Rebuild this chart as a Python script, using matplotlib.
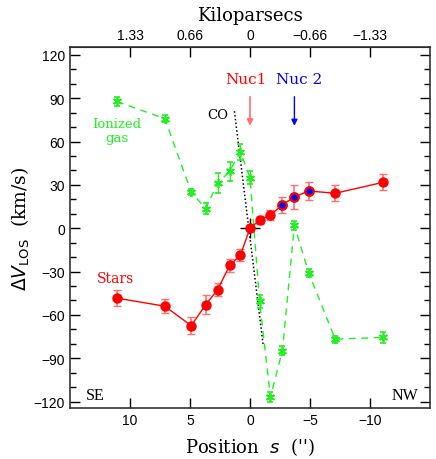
import matplotlib
matplotlib.use("Agg")
import matplotlib.pyplot as plt
import numpy as np

# slit positions (arcsec), shared by stars and gas
pos = np.array([11.1, 7.1, 4.9, 3.7, 2.7, 1.7, 0.8, 0.0, -0.8, -1.7, -2.7, -3.7, -4.9, -7.1, -11.1])

star_v = np.array([-48.4, -54.0, -67.5, -53.0, -42.6, -25.8, -18.7, 0.0, 5.5, 9.2, 16.1, 21.7, 25.8, 24.2, 31.8])
star_err = np.array([5.3, 5.0, 5.8, 6.5, 4.5, 4.3, 4.3, 0.0, 2.9, 3.3, 5.5, 8.4, 6.3, 5.5, 5.6])
star_nuc2 = [10, 11, 12]  # points drawn with blue centres

gas_v = np.array([87.8, 75.9, 25.1, 13.6, 31.1, 39.4, 53.0, 35.0, -50.7, -117.0, -84.8, 2.0, -31.1, -76.8, -75.6])
gas_err = np.array([3.2, 2.3, 2.0, 3.7, 7.0, 6.8, 5.5, 4.6, 4.6, 3.5, 3.1, 2.9, 2.9, 2.5, 3.8])

co_s = [1.3, -1.1]
co_v = [81.0, -81.0]

kpc_ticks = [10, 5, 0, -5, -10]
kpc_labels = ["1.33", "0.66", "0", "\u22120.66", "\u22121.33"]

red = "#ff0000"
light_red = "#ff6f6f"
green = "#22ee22"
blue = "#0000ff"

serif = ["DejaVu Serif"]
plt.rcParams["font.family"] = ["Liberation Sans", "DejaVu Sans"]

fig = plt.figure(figsize=(4.36, 4.6), dpi=100)
ax = fig.add_axes([70 / 436, 1 - 409 / 460, 360 / 436, 361 / 460])

# ionized gas
ax.errorbar(pos, gas_v, yerr=gas_err, color=green, ls=(0, (5, 4)), lw=1.0,
            marker=(6, 2, 0), ms=6.5, mew=1.2, capsize=2.5, elinewidth=1.0, zorder=3)

# CO
ax.plot(co_s, co_v, color="black", ls=(0, (1, 1.5)), lw=1.1, zorder=2)
ax.plot([0], [0], marker="+", ms=14, mew=1.0, color="black", zorder=2)

# stars
ax.errorbar(pos, star_v, yerr=star_err, color=red, lw=1.0, marker="o", ms=6.5,
            ecolor=light_red, capsize=3, elinewidth=1.2, zorder=4)
ax.plot(pos[star_nuc2], star_v[star_nuc2], ls="none", marker="o", ms=6.0,
        mfc=blue, mec=red, mew=1.5, zorder=5)

# nuclei
ax.annotate("", xy=(0, 69), xytext=(0, 93),
            arrowprops=dict(arrowstyle="-|>", color=light_red, lw=1.2, mutation_scale=9))
ax.annotate("", xy=(-3.7, 69), xytext=(-3.7, 93),
            arrowprops=dict(arrowstyle="-|>", color=blue, lw=1.0, mutation_scale=9))
ax.text(0.35, 103, "Nuc1", color=red, ha="center", va="center", fontsize=11, family=serif)
ax.text(-4.1, 103, "Nuc 2", color=blue, ha="center", va="center", fontsize=11, family=serif)

ax.text(1.85, 78.5, "CO", color="black", ha="right", va="center", fontsize=9.5, family=serif)
ax.text(11.1, 67.5, "Ionized\ngas", color=green, ha="center", va="center", fontsize=9.5,
        family=serif, linespacing=1.1)
ax.text(11.25, -34.6, "Stars", color=red, ha="center", va="center", fontsize=10, family=serif)
ax.text(12.9, -115.5, "SE", ha="center", va="center", fontsize=11.5, family=["Liberation Serif"])
ax.text(-12.9, -115.5, "NW", ha="center", va="center", fontsize=11.5, family=["Liberation Serif"])

ax.set_xlim(15, -15)
ax.set_ylim(-124.5, 125.5)
ax.set_xticks([10, 5, 0, -5, -10])
ax.set_yticks(np.arange(-120, 121, 30))
ax.set_yticks(np.arange(-120, 121, 10), minor=True)
ax.tick_params(axis="both", which="major", direction="in", length=7, width=1.0,
               labelsize=10, right=True)
ax.tick_params(axis="y", which="minor", direction="in", length=4, width=1.0, right=True)
for sp in ax.spines.values():
    sp.set_linewidth(1.2)
    sp.set_color("#333333")

ax.set_xlabel("Position  $s$  ('')", fontsize=13, family=serif, labelpad=6)
ax.set_ylabel(r"$\Delta V_{\rm LOS}$  (km/s)", fontsize=13.5, family=serif, labelpad=1)

top = ax.secondary_xaxis("top")
top.set_xticks(kpc_ticks)
top.set_xticklabels(kpc_labels)
top.tick_params(direction="in", length=7, width=1.0, labelsize=10)
top.set_xlabel("Kiloparsecs", fontsize=13, family=serif, labelpad=6)

fig.savefig("out.png", dpi=100)
